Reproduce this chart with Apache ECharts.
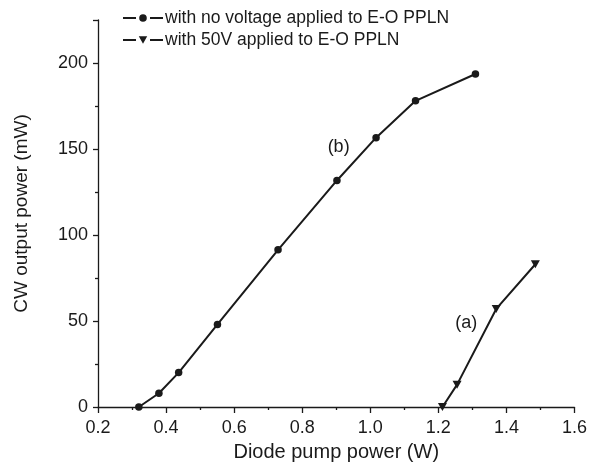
<!DOCTYPE html>
<html>
<head>
<meta charset="utf-8">
<script src="https://cdn.jsdelivr.net/npm/echarts@6/dist/echarts.min.js"></script>
<style>
  html, body { margin: 0; padding: 0; background: #fff; }
  #chart { width: 590px; height: 476px; }
</style>
</head>
<body>
<div id="chart"></div>
<script>
// Diode pump power (W) and CW output power (mW)
const pumpNoVoltage = [0.32, 0.379, 0.437, 0.551, 0.729, 0.902, 1.017, 1.133, 1.309];
const powerNoVoltage = [0, 8, 20, 48, 91.4, 131.7, 156.6, 178, 193.6];

const pump50V = [1.212, 1.255, 1.37, 1.485];
const power50V = [0, 13, 57, 83];

const seriesNames = ['with no voltage applied to E-O PPLN', 'with 50V applied to E-O PPLN'];
const curveLabels = [
  { text: '(b)', x: 0.907, y: 151 },
  { text: '(a)', x: 1.282, y: 48.6 }
];

const FONT = '"Liberation Sans", Arial, Helvetica, sans-serif';
const INK = '#1a1a1a';

const toPairs = (xs, ys) => xs.map((x, i) => [x, ys[i]]);

// Legend keys drawn as "dash, marker, dash" in a 40x10 box
const ICON_DOT = 'path://M0,4H13V6H0Z M27,4H40V6H27Z M16.2,5A3.8,3.8 0 1,0 23.8,5A3.8,3.8 0 1,0 16.2,5Z M0,0H0.01V10H0Z';
const ICON_TRI = 'path://M0,4H13V6H0Z M27,4H40V6H27Z M15.8,1.2H24.2L20,8.8Z M0,0H0.01V10H0Z';

const chart = echarts.init(document.getElementById('chart'), null, { renderer: 'canvas' });

chart.setOption({
  animation: false,
  backgroundColor: '#fff',
  textStyle: { fontFamily: FONT, color: INK },
  grid: { left: 98, right: 15, top: 20, bottom: 69, containLabel: false },
  legend: {
    orient: 'vertical',
    left: 118,
    top: 4,
    itemWidth: 40,
    itemHeight: 10,
    itemGap: 4,
    textStyle: { fontFamily: FONT, fontSize: 17.5, color: INK, padding: [0, 0, 0, -3] },
    data: [
      { name: seriesNames[0], icon: ICON_DOT },
      { name: seriesNames[1], icon: ICON_TRI }
    ]
  },
  xAxis: {
    type: 'value',
    min: 0.2,
    max: 1.6,
    interval: 0.2,
    name: 'Diode pump power (W)',
    nameLocation: 'middle',
    nameGap: 35,
    nameTextStyle: { fontFamily: FONT, fontSize: 20, color: INK },
    axisLine: { lineStyle: { color: INK, width: 1.3 } },
    axisTick: { show: true, length: 6, lineStyle: { color: INK, width: 1.3 } },
    minorTick: { show: true, splitNumber: 2, length: 3, lineStyle: { color: INK, width: 1.3 } },
    axisLabel: {
      fontFamily: FONT, fontSize: 18, color: INK, margin: 12,
      formatter: v => v.toFixed(1)
    },
    splitLine: { show: false }
  },
  yAxis: {
    type: 'value',
    min: 0,
    max: 225,
    interval: 50,
    name: 'CW output power (mW)',
    nameLocation: 'middle',
    nameGap: 67,
    nameTextStyle: { fontFamily: FONT, fontSize: 19, color: INK },
    axisLine: { show: true, lineStyle: { color: INK, width: 1.3 } },
    axisTick: { show: true, length: 5, lineStyle: { color: INK, width: 1.3 } },
    minorTick: { show: true, splitNumber: 2, length: 3, lineStyle: { color: INK, width: 1.3 } },
    axisLabel: {
      fontFamily: FONT, fontSize: 18, color: INK, margin: 10,
      showMaxLabel: false,
      formatter: v => (v > 200 ? '' : String(v))
    },
    splitLine: { show: false }
  },
  series: [
    {
      name: seriesNames[0],
      type: 'line',
      data: toPairs(pumpNoVoltage, powerNoVoltage),
      symbol: 'circle',
      symbolSize: 7.5,
      lineStyle: { color: INK, width: 2 },
      itemStyle: { color: INK },
      clip: false
    },
    {
      name: seriesNames[1],
      type: 'line',
      data: toPairs(pump50V, power50V),
      symbol: 'triangle',
      symbolRotate: 180,
      symbolSize: [9, 8],
      lineStyle: { color: INK, width: 2 },
      itemStyle: { color: INK },
      clip: false
    },
    {
      type: 'scatter',
      silent: true,
      symbolSize: 0,
      itemStyle: { color: INK },
      data: curveLabels.map(l => ({ value: [l.x, l.y], name: l.text })),
      label: {
        show: true,
        position: 'inside',
        formatter: p => p.name,
        fontFamily: FONT,
        fontSize: 18,
        color: INK,
        textBorderWidth: 0,
        opacity: 1
      },
      legendHoverLink: false
    }
  ]
});
</script>
</body>
</html>
